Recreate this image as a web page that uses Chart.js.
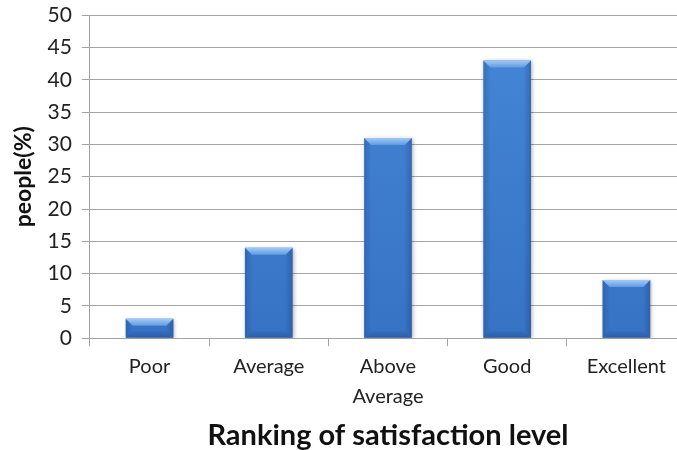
<!DOCTYPE html>
<html>
<head>
<meta charset="utf-8">
<script src="https://cdn.jsdelivr.net/npm/chart.js@4"></script>
<style>
  html, body { margin: 0; padding: 0; background: #fff; overflow: hidden; }
  #wrap { width: 686px; height: 450px; }
</style>
</head>
<body>
<div id="wrap"><canvas id="chart"></canvas></div>
<script>
const categories = ["Poor", "Average", ["Above", "Average"], "Good", "Excellent"];
const people = [3, 14, 31, 43, 9];
const yTicks = [0, 5, 10, 15, 20, 25, 30, 35, 40, 45, 50];

const FONT = "Lato, 'Open Sans', sans-serif";
const GRID = "#a3a3a3";

// shaded edges on each bar, drawn from the bar element's own geometry
const bevel = {
  id: "bevel",
  beforeDatasetsDraw(chart) {
    const ctx = chart.ctx;
    ctx.save();
    ctx.shadowColor = "rgba(0,0,0,0.3)";
    ctx.shadowBlur = 4;
    ctx.shadowOffsetX = 1;
    ctx.shadowOffsetY = 1;
  },
  afterDatasetsDraw(chart) {
    const ctx = chart.ctx;
    ctx.restore();
    chart.getDatasetMeta(0).data.forEach(bar => {
      const { x, y, base, width } = bar.getProps(["x", "y", "base", "width"], true);
      const l = x - width / 2, r = x + width / 2;
      const b = Math.min(7, (base - y) / 2);
      const poly = (pts, fill) => {
        ctx.beginPath();
        ctx.moveTo(pts[0][0], pts[0][1]);
        pts.slice(1).forEach(p => ctx.lineTo(p[0], p[1]));
        ctx.closePath();
        ctx.fillStyle = fill;
        ctx.fill();
      };
      const top = ctx.createLinearGradient(0, y, 0, y + b);
      top.addColorStop(0, "#a2caf6");
      top.addColorStop(1, "#609ae0");
      poly([[l, y], [r, y], [r - b, y + b], [l + b, y + b]], top);
      const left = ctx.createLinearGradient(l, 0, l + b, 0);
      left.addColorStop(0, "rgba(20,50,110,0.25)");
      left.addColorStop(1, "rgba(20,50,110,0.02)");
      poly([[l, y], [l + b, y + b], [l + b, base - b], [l, base]], left);
      const right = ctx.createLinearGradient(r, 0, r - b, 0);
      right.addColorStop(0, "rgba(20,50,110,0.3)");
      right.addColorStop(1, "rgba(20,50,110,0.03)");
      poly([[r, y], [r - b, y + b], [r - b, base - b], [r, base]], right);
      const bottom = ctx.createLinearGradient(0, base, 0, base - b);
      bottom.addColorStop(0, "rgba(15,40,90,0.28)");
      bottom.addColorStop(1, "rgba(15,40,90,0.05)");
      poly([[l, base], [l + b, base - b], [r - b, base - b], [r, base]], bottom);
    });
  }
};

const ctx = document.getElementById("chart");
new Chart(ctx, {
  type: "bar",
  data: {
    labels: categories,
    datasets: [{
      data: people,
      backgroundColor(c) {
        const area = c.chart.chartArea;
        if (!area) return "#3a78c8";
        const g = c.chart.ctx.createLinearGradient(0, area.top, 0, area.bottom);
        g.addColorStop(0, "#4587d8");
        g.addColorStop(1, "#3773c4");
        return g;
      },
      borderWidth: 0,
      categoryPercentage: 1,
      barPercentage: 0.4
    }]
  },
  options: {
    responsive: true,
    maintainAspectRatio: false,
    animation: false,
    layout: { padding: { top: 0, right: 0, bottom: -3, left: 10 } },
    plugins: {
      legend: { display: false },
      tooltip: { enabled: false }
    },
    scales: {
      x: {
        offset: true,
        grid: {
          offset: true,
          drawOnChartArea: false,
          drawTicks: true,
          tickLength: 8,
          color: GRID
        },
        border: { color: GRID },
        ticks: {
          color: "#222",
          padding: 5,
          maxRotation: 0,
          autoSkip: false,
          font: { family: FONT, size: 20, lineHeight: 1.5 }
        },
        title: {
          display: true,
          text: "Ranking of satisfaction level",
          color: "#111",
          padding: { top: 2, bottom: 0 },
          font: { family: FONT, size: 29, weight: "bold" }
        }
      },
      y: {
        min: 0,
        max: 50,
        afterBuildTicks(scale) {
          scale.ticks = yTicks.map(v => ({ value: v }));
        },
        grid: {
          color: GRID,
          tickLength: 8
        },
        border: { color: GRID },
        ticks: {
          color: "#222",
          padding: 10,
          font: { family: FONT, size: 21, lineHeight: 0.5 }
        },
        title: {
          display: true,
          text: "people(%)",
          color: "#111",
          padding: { top: 0, bottom: 0 },
          font: { family: FONT, size: 23, weight: "bold" }
        }
      }
    }
  },
  plugins: [bevel]
});
</script>
</body>
</html>
